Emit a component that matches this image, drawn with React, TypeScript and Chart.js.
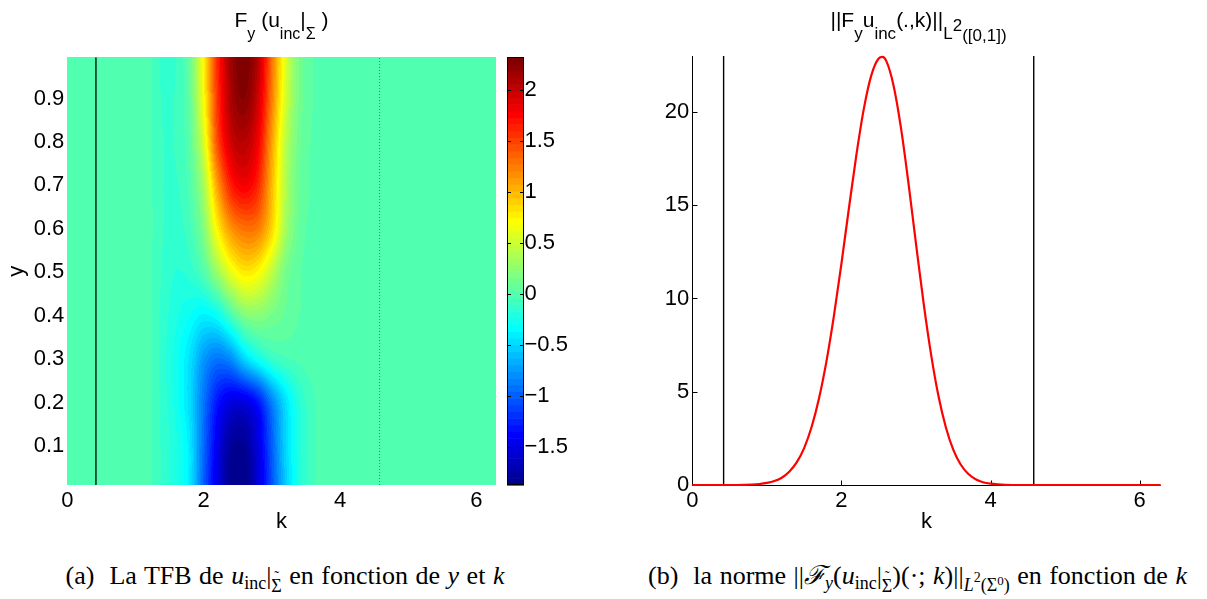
import React, { useEffect, useRef } from "react";
import { Chart, registerables } from "chart.js";

Chart.register(...registerables);

const FONT = "'Liberation Sans', Arial, Helvetica, sans-serif";
const SERIF = "'Liberation Serif', 'DejaVu Serif', 'Times New Roman', serif";

// ---------- left panel: F_y(u_inc) as a function of k and y ----------
const K_MAX = 6.283;
const Y_MIN = 0.01;
const Y_MAX = 0.995;
const K_TICKS = [0, 2, 4, 6];
const Y_TICKS = [0.1, 0.2, 0.3, 0.4, 0.5, 0.6, 0.7, 0.8, 0.9];
const CBAR_MIN = -1.87;
const CBAR_MAX = 2.32;
const CBAR_TICKS = [-1.5, -1, -0.5, 0, 0.5, 1, 1.5, 2];
const MARK_K = [0.42, 4.58];

const HEAT_K = [1.0, 1.2, 1.4, 1.6, 1.8, 2.0, 2.2, 2.4, 2.6, 2.8, 3.0, 3.2, 3.4, 3.6, 3.8, 4.0];
const HEAT_Y = [0.0, 0.1, 0.2, 0.3, 0.4, 0.5, 0.6, 0.7, 0.8, 0.9, 1.0];
// one row per HEAT_Y value, one entry per HEAT_K value
const HEAT_VALUES = [
  [0, -0.02, -0.12, -0.22, -0.42, -1.0, -1.5, -1.85, -1.87, -1.55, -1.05, -0.55, -0.22, -0.05, 0, 0],
  [0, -0.02, -0.12, -0.22, -0.42, -0.95, -1.45, -1.78, -1.8, -1.5, -1.0, -0.5, -0.2, -0.05, 0, 0],
  [0, -0.02, -0.13, -0.26, -0.48, -0.9, -1.3, -1.5, -1.5, -1.3, -0.85, -0.45, -0.18, -0.05, 0, 0],
  [0, -0.02, -0.14, -0.27, -0.45, -0.75, -0.9, -0.8, -0.5, -0.28, -0.12, -0.05, -0.02, 0, 0, 0],
  [0, -0.02, -0.13, -0.22, -0.3, -0.38, -0.3, -0.05, 0.18, 0.22, 0.15, 0.08, 0.03, 0, 0, 0],
  [0, -0.02, -0.11, -0.17, -0.14, 0.0, 0.3, 0.62, 0.8, 0.72, 0.45, 0.15, 0.04, 0, 0, 0],
  [0, -0.02, -0.1, -0.13, -0.05, 0.2, 0.75, 1.15, 1.3, 1.25, 0.88, 0.35, 0.08, 0.01, 0, 0],
  [0, -0.02, -0.1, -0.11, 0.0, 0.35, 1.1, 1.65, 1.8, 1.6, 1.0, 0.4, 0.1, 0.02, 0, 0],
  [0, -0.02, -0.1, -0.09, 0.05, 0.55, 1.45, 1.95, 2.05, 1.8, 1.1, 0.45, 0.12, 0.02, 0, 0],
  [0, -0.02, -0.11, -0.09, 0.08, 0.7, 1.55, 2.1, 2.25, 1.95, 1.25, 0.55, 0.15, 0.03, 0, 0],
  [0, -0.02, -0.12, -0.1, 0.1, 0.75, 1.6, 2.15, 2.32, 2.05, 1.3, 0.6, 0.15, 0.03, 0, 0],
];

// ---------- right panel: L2 norm as a function of k ----------
const NORM_K = [
  0, 0.6, 0.8, 0.9, 1.0, 1.1, 1.2, 1.3, 1.4, 1.5, 1.6, 1.7, 1.8, 1.9, 2.0, 2.1, 2.2, 2.3, 2.4, 2.5, 2.55,
  2.6, 2.7, 2.8, 2.9, 3.0, 3.1, 3.2, 3.3, 3.4, 3.5, 3.6, 3.7, 3.8, 3.9, 4.0, 4.1, 4.2, 4.4, 6.283,
];
const NORM_VALUES = [
  0, 0, 0.02, 0.05, 0.11, 0.21, 0.39, 0.71, 1.21, 1.98, 3.11, 4.65, 6.64, 9.08, 11.86, 14.81, 17.67, 20.15, 21.95, 22.87, 22.95,
  22.75, 21.41, 19.12, 16.17, 12.95, 9.83, 7.07, 4.81, 3.11, 1.9, 1.1, 0.6, 0.31, 0.15, 0.07, 0.03, 0.01, 0, 0,
];
const NORM_MAX = 23;
const NORM_TICKS = [0, 5, 10, 15, 20];

// MATLAB jet(64)
function jetColor(v: number): [number, number, number] {
  let i = Math.floor(((v - CBAR_MIN) / (CBAR_MAX - CBAR_MIN)) * 64);
  if (i < 0) i = 0;
  if (i > 63) i = 63;
  const c = (a: number) => Math.max(0, Math.min(1, a));
  const r = c(Math.min((i - 23) / 16, (71 - i) / 16));
  const g = c(Math.min((i - 7) / 16, (55 - i) / 16));
  const b = c(Math.min((i + 9) / 16, (39 - i) / 16));
  return [Math.round(r * 255), Math.round(g * 255), Math.round(b * 255)];
}

function cr(p0: number, p1: number, p2: number, p3: number, t: number) {
  return 0.5 * (2 * p1 + (-p0 + p2) * t + (2 * p0 - 5 * p1 + 4 * p2 - p3) * t * t + (-p0 + 3 * p1 - 3 * p2 + p3) * t * t * t);
}
const clampI = (v: number, a: number, b: number) => Math.max(a, Math.min(b, v));

// smooth shading between the grid values (rendering only)
function shade(k: number, y: number) {
  const nk = HEAT_K.length;
  const ny = HEAT_Y.length;
  if (k <= HEAT_K[0] || k >= HEAT_K[nk - 1]) return 0;
  const dk = HEAT_K[1] - HEAT_K[0];
  const dy = HEAT_Y[1] - HEAT_Y[0];
  const fk = (k - HEAT_K[0]) / dk;
  const ik = Math.floor(fk);
  const tk = fk - ik;
  let fy = (y - HEAT_Y[0]) / dy;
  fy = Math.max(0, Math.min(ny - 1 - 1e-9, fy));
  const iy = Math.floor(fy);
  const ty = fy - iy;
  const row = (j: number) => {
    const r = HEAT_VALUES[clampI(j, 0, ny - 1)];
    const g = (i: number) => r[clampI(i, 0, nk - 1)];
    return cr(g(ik - 1), g(ik), g(ik + 1), g(ik + 2), tk);
  };
  return cr(row(iy - 1), row(iy), row(iy + 1), row(iy + 2), ty);
}

const heatPlugin = {
  id: "heat",
  beforeDatasetsDraw(chart: any) {
    const { ctx, chartArea, scales } = chart;
    const x0 = Math.round(chartArea.left);
    const y0 = Math.round(chartArea.top);
    const w = Math.round(chartArea.right) - x0;
    const h = Math.round(chartArea.bottom) - y0;
    const off = document.createElement("canvas");
    off.width = w;
    off.height = h;
    const octx = off.getContext("2d")!;
    const img = octx.createImageData(w, h);
    const ks: number[] = [];
    for (let px = 0; px < w; px++) ks.push(scales.x.getValueForPixel(x0 + px + 0.5));
    for (let py = 0; py < h; py++) {
      const yv = scales.y.getValueForPixel(y0 + py + 0.5);
      for (let px = 0; px < w; px++) {
        const [r, g, b] = jetColor(shade(ks[px], yv));
        const o = (py * w + px) * 4;
        img.data[o] = r;
        img.data[o + 1] = g;
        img.data[o + 2] = b;
        img.data[o + 3] = 255;
      }
    }
    octx.putImageData(img, 0, 0);
    ctx.drawImage(off, x0, y0);
  },
  afterDraw(chart: any) {
    const { ctx, chartArea } = chart;
    const cb = chart.scales.cb;
    const bx = Math.round(chartArea.right + 11);
    const bw = 17;
    const n = 64;
    const step = (CBAR_MAX - CBAR_MIN) / n;
    ctx.save();
    for (let i = 0; i < n; i++) {
      const v0 = CBAR_MIN + i * step;
      const p0 = cb.getPixelForValue(v0);
      const p1 = cb.getPixelForValue(v0 + step);
      const [r, g, b] = jetColor(v0 + step / 2);
      ctx.fillStyle = `rgb(${r},${g},${b})`;
      ctx.fillRect(bx, p1, bw, p0 - p1 + 0.6);
    }
    const top = cb.getPixelForValue(CBAR_MAX);
    const bot = cb.getPixelForValue(CBAR_MIN);
    ctx.strokeStyle = "#000";
    ctx.lineWidth = 1;
    ctx.strokeRect(bx + 0.5, Math.round(top) + 0.5, bw - 1, Math.round(bot) - Math.round(top) - 1);
    ctx.beginPath();
    for (const v of CBAR_TICKS) {
      const p = Math.round(cb.getPixelForValue(v)) + 0.5;
      ctx.moveTo(bx, p);
      ctx.lineTo(bx + 4, p);
      ctx.moveTo(bx + bw - 4, p);
      ctx.lineTo(bx + bw, p);
    }
    ctx.stroke();
    ctx.restore();
  },
};

const axesPlugin = {
  id: "matlabAxes",
  beforeDatasetsDraw(chart: any) {
    const { ctx, chartArea, scales } = chart;
    const l = Math.round(chartArea.left) + 0.5;
    const b = Math.round(chartArea.bottom) + 0.5;
    ctx.save();
    ctx.strokeStyle = "#000";
    ctx.lineWidth = 1;
    ctx.beginPath();
    ctx.moveTo(l, Math.round(chartArea.top));
    ctx.lineTo(l, b);
    ctx.lineTo(chartArea.right, b);
    for (const v of NORM_TICKS) {
      const p = Math.round(scales.y.getPixelForValue(v)) + 0.5;
      ctx.moveTo(l, p);
      ctx.lineTo(l + 5, p);
    }
    for (const v of K_TICKS) {
      const p = Math.round(scales.x.getPixelForValue(v)) + 0.5;
      ctx.moveTo(p, b);
      ctx.lineTo(p, b - 5);
    }
    ctx.stroke();
    ctx.restore();
  },
};

const TICK_FONT = { family: FONT, size: 22 };
const minusFmt = (v: number) => (v < 0 ? "\u2212" + String(Math.abs(v)) : String(v));

function Sub({ children, top = 12, size = 16 }: any) {
  return <span style={{ fontSize: size, position: "relative", top }}>{children}</span>;
}

function SigmaTilde({ size = 17, top = 7 }: any) {
  return (
    <span style={{ fontSize: size, position: "relative", top, display: "inline-block" }}>
      Σ
      <span style={{ position: "absolute", left: 0, right: 0, top: -Math.round(size * 0.55), textAlign: "center", fontSize: size * 0.8 }}>˜</span>
    </span>
  );
}

export default function App() {
  const leftRef = useRef<HTMLCanvasElement>(null);
  const rightRef = useRef<HTMLCanvasElement>(null);

  useEffect(() => {
    const left = new Chart(leftRef.current!, {
      type: "line",
      data: {
        datasets: MARK_K.map((k, i) => ({
          data: [
            { x: k, y: Y_MIN },
            { x: k, y: Y_MAX },
          ],
          borderColor: i === 0 ? "#000" : "rgba(0,60,40,0.55)",
          borderWidth: i === 0 ? 1.3 : 1,
          borderDash: i === 0 ? [] : [1, 2],
          pointRadius: 0,
          xAxisID: "x",
          yAxisID: "y",
        })),
      },
      options: {
        animation: false,
        responsive: false,
        devicePixelRatio: 1,
        layout: { padding: { top: 57.3, left: 0, right: 0, bottom: 0 } },
        plugins: { legend: { display: false }, tooltip: { enabled: false } },
        scales: {
          x: {
            type: "linear",
            position: "bottom",
            min: 0,
            max: K_MAX,
            grid: { display: false, drawTicks: false },
            border: { display: false },
            ticks: { font: TICK_FONT, color: "#000", padding: 3, maxRotation: 0, autoSkip: false, callback: (v: any) => String(v) },
            afterBuildTicks: (s: any) => {
              s.ticks = K_TICKS.map((v) => ({ value: v }));
            },
            afterFit: (s: any) => {
              s.height = 75;
            },
            title: { display: true, text: "k", font: TICK_FONT, color: "#000", padding: { top: 0, bottom: 25 } },
          },
          y: {
            type: "linear",
            position: "left",
            min: Y_MIN,
            max: Y_MAX,
            grid: { display: false, drawTicks: false },
            border: { display: false },
            ticks: { font: TICK_FONT, color: "#000", padding: 3, autoSkip: false, callback: (v: any) => Number(v).toFixed(1) },
            afterBuildTicks: (s: any) => {
              s.ticks = Y_TICKS.map((v) => ({ value: v }));
            },
            afterFit: (s: any) => {
              s.width = 67.3;
            },
            title: { display: true, text: "y", font: TICK_FONT, color: "#000", padding: { top: 4, bottom: 0 } },
          },
          cb: {
            axis: "y",
            type: "linear",
            position: "right",
            min: CBAR_MIN,
            max: CBAR_MAX,
            grid: { display: false, drawTicks: false },
            border: { display: false },
            ticks: { font: TICK_FONT, color: "#000", padding: 28.8, autoSkip: false, callback: (v: any) => minusFmt(Number(v)) },
            afterBuildTicks: (s: any) => {
              s.ticks = CBAR_TICKS.map((v) => ({ value: v }));
            },
            afterFit: (s: any) => {
              s.width = 104.3;
            },
          },
        },
      } as any,
      plugins: [heatPlugin],
    });

    const right = new Chart(rightRef.current!, {
      type: "line",
      data: {
        datasets: [
          {
            data: NORM_K.map((k, i) => ({ x: k, y: NORM_VALUES[i] })),
            borderColor: "#ff0000",
            borderWidth: 2.2,
            pointRadius: 0,
            cubicInterpolationMode: "monotone",
            clip: false,
          } as any,
          ...MARK_K.map((k) => ({
            data: [
              { x: k, y: 0 },
              { x: k, y: NORM_MAX },
            ],
            borderColor: "#000",
            borderWidth: 1.4,
            pointRadius: 0,
          })),
        ],
      },
      options: {
        animation: false,
        responsive: false,
        devicePixelRatio: 1,
        layout: { padding: { top: 56, left: 0, right: 46.3, bottom: 0 } },
        plugins: { legend: { display: false }, tooltip: { enabled: false } },
        scales: {
          x: {
            type: "linear",
            position: "bottom",
            min: 0,
            max: K_MAX,
            grid: { display: false, drawTicks: false },
            border: { display: false },
            ticks: { font: TICK_FONT, color: "#000", padding: 3, maxRotation: 0, autoSkip: false, callback: (v: any) => String(v) },
            afterBuildTicks: (s: any) => {
              s.ticks = K_TICKS.map((v) => ({ value: v }));
            },
            afterFit: (s: any) => {
              s.height = 75;
            },
            title: { display: true, text: "k", font: TICK_FONT, color: "#000", padding: { top: 0, bottom: 25 } },
          },
          y: {
            type: "linear",
            position: "left",
            min: 0,
            max: NORM_MAX,
            grid: { display: false, drawTicks: false },
            border: { display: false },
            ticks: { font: TICK_FONT, color: "#000", padding: 3, autoSkip: false, callback: (v: any) => String(v) },
            afterBuildTicks: (s: any) => {
              s.ticks = NORM_TICKS.map((v) => ({ value: v }));
            },
            afterFit: (s: any) => {
              s.width = 92.3;
            },
          },
        },
      } as any,
      plugins: [axesPlugin],
    });

    return () => {
      left.destroy();
      right.destroy();
    };
  }, []);

  const titleStyle: any = {
    position: "absolute",
    top: 7,
    textAlign: "center",
    fontFamily: FONT,
    fontSize: 21,
    lineHeight: "26px",
    whiteSpace: "nowrap",
    color: "#000",
  };
  const capStyle: any = {
    position: "absolute",
    top: 561,
    textAlign: "center",
    fontFamily: SERIF,
    fontSize: 26,
    lineHeight: "30px",
    wordSpacing: 1,
    whiteSpace: "nowrap",
    color: "#000",
  };

  return (
    <div style={{ position: "absolute", left: 0, top: 0, width: 1207, height: 599, background: "#fff", overflow: "hidden" }}>
      <canvas ref={leftRef} width={600} height={560} style={{ position: "absolute", left: 0, top: 0 }} />
      <canvas ref={rightRef} width={607} height={560} style={{ position: "absolute", left: 600, top: 0 }} />

      <div style={{ ...titleStyle, left: 67, width: 429 }}>
        F<Sub>y</Sub> (u<Sub>inc</Sub>|<Sub>Σ</Sub> )
      </div>
      <div style={{ ...titleStyle, left: 684, width: 469 }}>
        ||F<Sub size={17}>y</Sub>u<Sub size={17}>inc</Sub>(.,k)||<Sub size={17}>L</Sub>
        <Sub top={4} size={17}>2</Sub>
        <Sub top={14} size={17}>([0,1])</Sub>
      </div>

      <div style={{ ...capStyle, left: 0, width: 570 }}>
        (a)&nbsp; La TFB de <i>u</i>
        <Sub top={5} size={18}>inc</Sub>|<SigmaTilde size={18} top={8} /> en fonction de <i>y</i> et <i>k</i>
      </div>
      <div style={{ ...capStyle, left: 630, width: 575 }}>
        (b)&nbsp; la norme ||<i>ℱ</i>
        <Sub top={5} size={18}><i>y</i></Sub>(<i>u</i>
        <Sub top={5} size={18}>inc</Sub>|<SigmaTilde size={18} top={8} />)(·; <i>k</i>)||
        <Sub top={7} size={18}><i>L</i></Sub>
        <Sub top={-2} size={14}>2</Sub>
        <Sub top={7} size={18}>(Σ</Sub>
        <Sub top={1} size={13}>0</Sub>
        <Sub top={7} size={18}>)</Sub> en fonction de <i>k</i>
      </div>
    </div>
  );
}
